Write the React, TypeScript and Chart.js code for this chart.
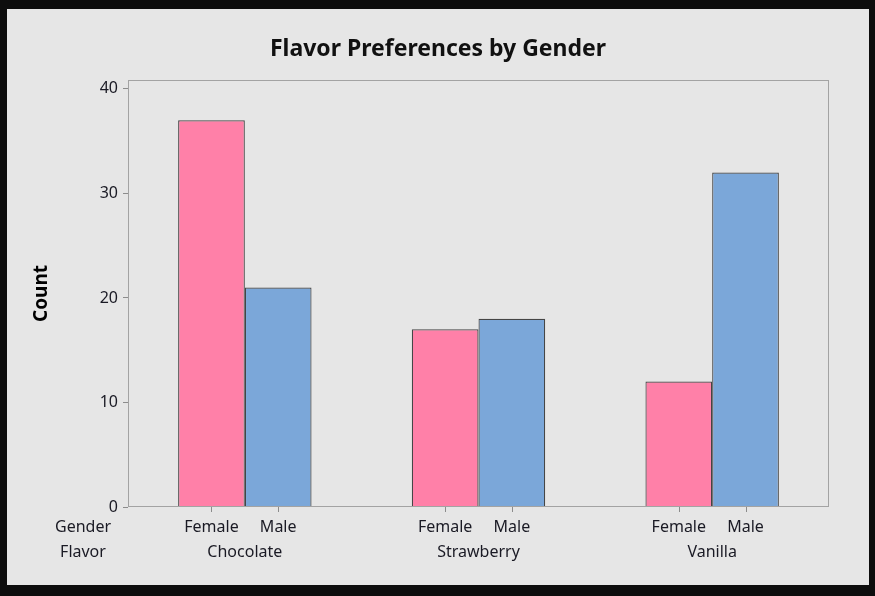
import { useEffect, useRef } from 'react'
import { Chart, registerables, type ChartConfiguration, type Plugin } from 'chart.js'

Chart.register(...registerables)

const flavors = ['Chocolate', 'Strawberry', 'Vanilla']
const genders = ['Female', 'Male']
const femaleCounts = [37, 17, 12]
const maleCounts = [21, 18, 32]
const yTicks = [0, 10, 20, 30, 40]
const chartTitle = 'Flavor Preferences by Gender'

const FONT = '"Noto Sans", "Open Sans", sans-serif'
const TXT = '#1a1a24'

// title, frame, bar-center ticks and the two rows of x labels
const panelLabels: Plugin<'bar'> = {
  id: 'panelLabels',
  afterDraw(chart) {
    const { ctx, chartArea: a, width } = chart
    ctx.save()
    ctx.strokeStyle = '#a3a3a3'
    ctx.lineWidth = 1
    ctx.strokeRect(a.left + 0.5, a.top + 0.5, a.right - a.left - 1, a.bottom - a.top - 1)

    ctx.textAlign = 'center'
    ctx.textBaseline = 'middle'
    ctx.fillStyle = '#111'
    ctx.font = `bold 23px ${FONT}`
    ctx.fillText(chartTitle, width / 2, 40)

    ctx.font = `16px ${FONT}`
    ctx.fillStyle = TXT
    const rowG = a.bottom + 20
    const rowF = a.bottom + 45
    flavors.forEach((f, i) => {
      const xs = genders.map((_, d) => (chart.getDatasetMeta(d).data[i] as any).x as number)
      xs.forEach((x, d) => {
        ctx.strokeStyle = '#8c8c8c'
        ctx.beginPath()
        ctx.moveTo(Math.round(x) + 0.5, a.bottom)
        ctx.lineTo(Math.round(x) + 0.5, a.bottom + 5)
        ctx.stroke()
        ctx.fillText(genders[d], x, rowG)
      })
      ctx.fillText(f, (xs[0] + xs[1]) / 2, rowF)
    })
    ctx.fillText('Gender', 76, rowG)
    ctx.fillText('Flavor', 76, rowF)
    ctx.restore()
  },
}

export default function App() {
  const ref = useRef<HTMLCanvasElement>(null)
  const chartRef = useRef<Chart<'bar'> | null>(null)

  useEffect(() => {
    document.body.style.margin = '0'
    if (!ref.current) return
    chartRef.current?.destroy()

    const config: ChartConfiguration<'bar'> = {
      type: 'bar',
      data: {
        labels: flavors,
        datasets: [
          {
            label: genders[0],
            data: femaleCounts,
            backgroundColor: '#ff80a8',
            borderColor: '#454545',
            borderWidth: 1.2,
            categoryPercentage: 0.571,
            barPercentage: 1,
          },
          {
            label: genders[1],
            data: maleCounts,
            backgroundColor: '#7ba7d9',
            borderColor: '#454545',
            borderWidth: 1.2,
            categoryPercentage: 0.571,
            barPercentage: 1,
          },
        ],
      },
      options: {
        animation: false,
        responsive: false,
        maintainAspectRatio: false,
        layout: { padding: { left: 0, right: 40, top: 71, bottom: 0 } },
        plugins: {
          legend: { display: false },
          tooltip: { enabled: false },
          title: { display: false },
        },
        scales: {
          x: {
            grid: { display: false },
            border: { display: false },
            ticks: { display: false },
            afterFit: s => { s.height = 78 },
          },
          y: {
            min: 0,
            max: 40.85,
            afterBuildTicks: s => { s.ticks = yTicks.map(v => ({ value: v })) },
            grid: { drawOnChartArea: false, tickLength: 5, color: '#8c8c8c' },
            border: { display: false },
            ticks: {
              color: TXT,
              padding: 5,
              font: { family: FONT, size: 16 },
            },
            title: {
              display: true,
              text: 'Count',
              color: '#000',
              font: { family: FONT, size: 19, weight: 'bold' },
              padding: { top: 23, bottom: 0 },
            },
            afterFit: s => { s.width = 121 },
          },
        },
      },
      plugins: [panelLabels],
    }

    chartRef.current = new Chart(ref.current, config)
    return () => chartRef.current?.destroy()
  }, [])

  return (
    <div style={{ position: 'relative', width: 875, height: 596, background: '#0d0d0d' }}>
      <div style={{ position: 'absolute', left: 7, top: 9, width: 862, height: 576, background: '#e6e6e6' }}>
        <canvas ref={ref} width={862} height={576} style={{ width: 862, height: 576 }} />
      </div>
    </div>
  )
}
